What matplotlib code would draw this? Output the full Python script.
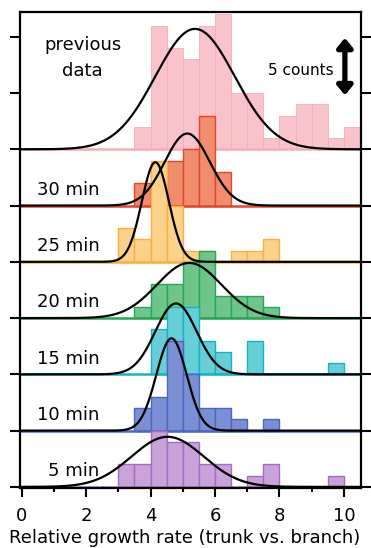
import numpy as np
import matplotlib
matplotlib.use("Agg")
import matplotlib.pyplot as plt

plt.rcParams['font.family'] = ['DejaVu Sans']

# ---------------- data (counts per 0.5-wide bin) ----------------
bin_width = 0.5
labels = ["5 min", "10 min", "15 min", "20 min", "25 min", "30 min", "previous data"]

start_5 = 3.0
counts_5 = [2, 2, 5, 4, 4, 2, 2, 0, 1, 2, 0, 0, 0, 1]
start_10 = 3.5
counts_10 = [2, 3, 8, 5, 2, 2, 1, 0, 1]
start_15 = 4.0
counts_15 = [4, 6, 6, 3, 2, 0, 3, 0, 0, 0, 0, 1]
start_20 = 3.5
counts_20 = [1, 3, 3, 5, 6, 2, 2, 2, 1]
start_25 = 3.0
counts_25 = [3, 2, 9, 5, 1, 1, 0, 1, 1, 2]
start_30 = 3.5
counts_30 = [2, 3, 4, 5, 8, 3]
start_prev = 3.5
counts_prev = [2, 11, 9, 8, 11, 12, 5, 5, 1, 3, 4, 4, 1, 2]

# Gaussian fit parameters (mean, sigma, peak height in counts)
fit_mean = [4.53, 4.65, 4.79, 5.20, 4.15, 5.14, 5.38]
fit_sigma = [1.12, 0.47, 0.64, 1.00, 0.42, 0.70, 1.23]
fit_amp = [4.45, 8.2, 6.3, 4.9, 8.85, 6.4, 10.7]

starts = [start_5, start_10, start_15, start_20, start_25, start_30, start_prev]
counts = [counts_5, counts_10, counts_15, counts_20, counts_25, counts_30, counts_prev]
row_offset = 5  # counts between stacked rows

fills = ["#c8a2d8", "#7b90d4", "#66ced7", "#6ec68b", "#fbd28b", "#ef8d6d", "#f8c3ca"]
edges = ["#a56cc0", "#4a68c2", "#16b3c0", "#27a657", "#f5b23c", "#e6452b", "#f3adb7"]

W, H = 371, 548
fig = plt.figure(figsize=(W / 100, H / 100), dpi=100)
ax = fig.add_axes([20 / W, 1 - 488 / H, (361 - 20) / W, (488 - 12) / H])
xmin, xmax = -0.05, 10.53
ax.set_xlim(xmin, xmax)
ax.set_ylim(-0.1, 42.2)

xs = np.linspace(xmin, xmax, 800)
n = len(labels)
for i in range(n):
    base = i * row_offset
    z = 10 + (n - i) * 2
    c = np.asarray(counts[i], dtype=float)
    lefts = starts[i] + bin_width * np.arange(len(c))
    mask = c > 0
    ax.bar(lefts[mask], c[mask], width=bin_width, bottom=base, align='edge',
           color=fills[i], edgecolor=edges[i], linewidth=1.0 if i < n - 1 else 0.6,
           zorder=z)
    ax.plot([xmin, xmax], [base, base], color=edges[i], lw=1.8, zorder=z + 1,
            solid_capstyle='butt')
    ys = base + fit_amp[i] * np.exp(-0.5 * ((xs - fit_mean[i]) / fit_sigma[i]) ** 2)
    ax.plot(xs, ys, color='black', lw=1.6, zorder=100)
    if i < n - 1:
        ax.text(2.41, base + 1.4, labels[i], ha='right', va='center', fontsize=13,
                zorder=120)

prev_words = labels[-1].split()
ax.text(1.89, 39.25, prev_words[0], ha='center', va='center', fontsize=13, zorder=120)
ax.text(1.89, 37.0, prev_words[1], ha='center', va='center', fontsize=13, zorder=120)

# scale bar: 5 counts
ax.annotate('', xy=(10.03, 39.9), xytext=(10.03, 34.8),
            arrowprops=dict(arrowstyle='<|-|>,head_length=0.55,head_width=0.45',
                            color='black', lw=3.8, shrinkA=0, shrinkB=0),
            zorder=130)
ax.text(9.68, 37.0, "5 counts", ha='right', va='center', fontsize=11, zorder=130)

for s in ax.spines.values():
    s.set_linewidth(1.6)
    s.set_zorder(150)

ax.set_yticks(np.arange(0, 41, 5))
ax.set_yticklabels([])
ax.tick_params(axis='y', which='major', direction='out', length=7, width=1.5,
               left=True, right=True)
ax.set_xticks(np.arange(0, 11, 2))
ax.set_xticks(np.arange(1, 11, 2), minor=True)
ax.tick_params(axis='x', which='major', direction='out', length=6.5, width=1.5,
               labelsize=13, pad=7)
ax.tick_params(axis='x', which='minor', direction='out', length=3, width=1.5)

fig.text(185 / W, 5 / H, "Relative growth rate (trunk vs. branch)", ha='center',
         va='baseline', fontsize=13)

fig.savefig("out.png", dpi=100)
